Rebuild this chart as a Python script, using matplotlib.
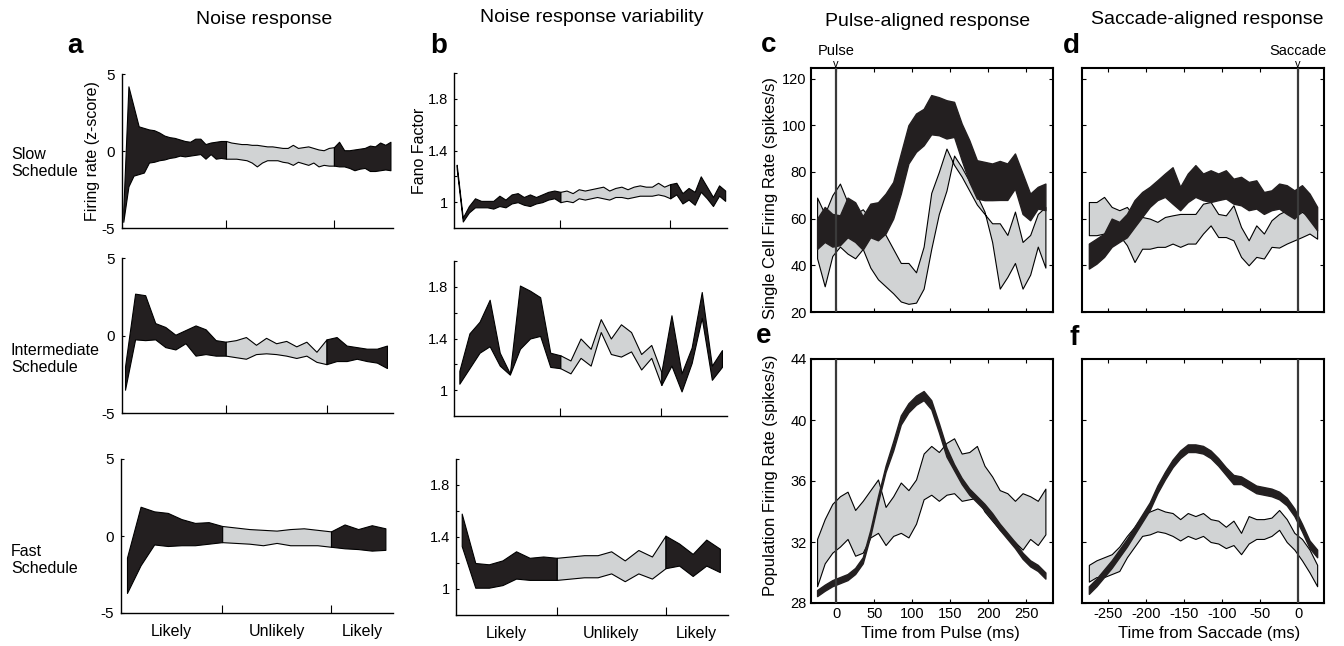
import numpy
import matplotlib
matplotlib.use('Agg')
import matplotlib.pyplot as pyplot
import matplotlib.transforms as mtransforms

pyplot.rcParams['font.family'] = ['Liberation Sans', 'DejaVu Sans']

W, H = 1344, 646
BLACK = '#231f20'
GREY = '#d1d3d4'

# ---- panel a : noise response (z-score), upper / lower edge of band ----
slow_hi = [-3.8, 4.2, 2.9, 1.6, 1.5, 1.4, 1.35, 1.2, 1.0, 0.9, 0.85, 0.75, 0.65, 0.6, 0.8, 0.8, 0.45, 0.55, 0.6, 0.65, 0.65,
           0.55, 0.5, 0.45, 0.45, 0.4, 0.4, 0.35, 0.3, 0.3, 0.25, 0.2, 0.2, 0.4, 0.2, 0.25, 0.3, 0.2, 0.1, 0.05, 0.2, 0.25,
           0.6, 0.05, 0.05, 0.1, 0.15, 0.2, 0.35, 0.3, 0.55, 0.4, 0.6]
slow_lo = [-4.6, -2.3, -1.6, -1.5, -1.4, -0.75, -0.7, -0.6, -0.55, -0.45, -0.4, -0.3, -0.35, -0.3, -0.25, -0.2, -0.5, -0.2, -0.5, -0.45, -0.5,
           -0.5, -0.5, -0.55, -0.6, -0.75, -1.0, -0.75, -0.6, -0.6, -0.6, -0.7, -0.75, -0.9, -0.7, -0.8, -0.9, -0.75, -1.0, -0.9, -0.95, -0.95,
           -1.0, -1.0, -1.1, -1.25, -1.15, -1.1, -1.3, -1.3, -1.25, -1.2, -1.25]
inter_hi = [-2.0, 2.7, 2.6, 0.8, 0.55, 0.05, 0.35, 0.65, 0.4, -0.3, -0.4, -0.3, -0.1, -0.6, -0.15, -0.5, -0.35, -0.7, -0.4, -1.05,
            -0.25, -0.1, -0.65, -0.75, -0.85, -0.85, -0.65]
inter_lo = [-3.5, -0.25, -0.3, -0.25, -0.75, -0.9, -0.5, -1.3, -1.2, -1.3, -1.3, -1.4, -1.5, -1.2, -1.15, -1.2, -1.3, -1.45, -1.3, -1.7,
            -1.85, -1.65, -1.65, -1.5, -1.65, -1.75, -2.1]
fast_hi = [-1.4, 1.9, 1.6, 1.5, 1.1, 0.85, 0.9, 0.65, 0.55, 0.45, 0.4, 0.35, 0.45, 0.5, 0.4, 0.3, 0.75, 0.45, 0.7, 0.5]
fast_lo = [-3.7, -1.9, -0.55, -0.65, -0.6, -0.6, -0.5, -0.4, -0.45, -0.5, -0.6, -0.45, -0.6, -0.6, -0.6, -0.7, -0.8, -0.85, -0.95, -0.9]

# ---- panel b : Fano factor ----
fano_slow_hi = [1.29, 0.88, 0.97, 1.03, 1.01, 1.01, 1.01, 1.05, 1.02, 1.06, 1.07, 1.04, 1.06, 1.04, 1.06, 1.08, 1.09, 1.08,
                1.09, 1.07, 1.10, 1.09, 1.10, 1.11, 1.12, 1.09, 1.11, 1.12, 1.10, 1.12, 1.13, 1.12, 1.12, 1.15, 1.12, 1.14,
                1.15, 1.07, 1.11, 1.08, 1.20, 1.12, 1.04, 1.13, 1.09]
fano_slow_lo = [1.26, 0.85, 0.92, 0.96, 0.96, 0.96, 0.95, 0.97, 0.96, 0.99, 1.0, 0.98, 0.97, 0.99, 1.0, 1.02, 1.03, 1.0,
                1.01, 1.0, 1.03, 1.02, 1.03, 1.04, 1.03, 1.02, 1.04, 1.04, 1.03, 1.04, 1.05, 1.05, 1.05, 1.06, 1.05, 1.03,
                1.06, 0.99, 1.02, 0.98, 1.08, 1.03, 0.97, 1.05, 1.01]
fano_inter_hi = [1.15, 1.44, 1.53, 1.70, 1.29, 1.13, 1.81, 1.77, 1.72, 1.29, 1.27,
                 1.23, 1.40, 1.32, 1.55, 1.40, 1.51, 1.45, 1.28, 1.35, 1.14,
                 1.58, 1.13, 1.33, 1.76, 1.19, 1.31]
fano_inter_lo = [1.05, 1.17, 1.29, 1.34, 1.19, 1.12, 1.32, 1.40, 1.42, 1.18, 1.17,
                 1.13, 1.25, 1.19, 1.45, 1.28, 1.26, 1.30, 1.16, 1.25, 1.04,
                 1.19, 0.99, 1.21, 1.56, 1.08, 1.18]
fano_fast_hi = [1.58, 1.20, 1.19, 1.22, 1.29, 1.24, 1.25, 1.24, 1.25, 1.26, 1.26, 1.29, 1.22, 1.30, 1.25, 1.41, 1.35, 1.27, 1.38, 1.31]
fano_fast_lo = [1.33, 1.01, 1.01, 1.03, 1.08, 1.07, 1.07, 1.07, 1.08, 1.09, 1.09, 1.12, 1.06, 1.12, 1.08, 1.16, 1.18, 1.10, 1.18, 1.13]

# Likely -> Unlikely -> Likely switch points (bin index) per schedule
cuts_slow = [20, 41]
cuts_inter = [10, 20]
cuts_fast = [7, 15]
cuts_slow_b = [17, 35]
seg_labels = ['Likely', 'Unlikely', 'Likely']

# ---- panels c-f : firing rates ----
t_pulse = numpy.arange(-25, 276, 10)
t_sacc = numpy.arange(-275, 26, 10)

c_blk_hi = [60, 65, 62, 61.4, 69, 67, 61, 66.4, 67, 70.7, 75.7, 87.9, 100, 105, 107, 112.9, 112, 110.7, 110, 100.7,
            93.6, 85, 84.3, 83.6, 84.7, 83.6, 87.9, 79.3, 70.7, 73.6, 75]
c_blk_lo = [47, 50, 48, 48.6, 52, 50, 46.7, 52, 50.7, 53.6, 60, 70.7, 83.6, 88.6, 91.4, 96.1, 95.7, 94.3, 95, 85,
            75.7, 68.6, 67.9, 67.9, 68, 68, 72.9, 62, 59.3, 64.3, 63.6]
c_gry_hi = [69, 62, 70, 75, 67, 62, 64, 60, 57, 53, 47, 41, 41, 37, 48, 71, 80, 90, 83, 78,
            72, 66, 62, 58, 58, 53, 63, 50, 53, 62, 65]
c_gry_lo = [43, 31, 44, 48, 45, 43, 47, 39, 34, 31, 28, 24.5, 23.5, 24, 30, 47, 62, 72, 87, 82,
            76, 70, 63, 50, 30, 35, 41, 30, 36, 48, 39]

d_blk_hi = [49.3, 51.4, 53.6, 60, 58.6, 62, 67.9, 71.4, 73.6, 76.4, 79.3, 82, 73.6, 79.3, 82.9, 79.3, 80.7, 79.3, 80.7, 77.1,
            77.9, 75.7, 76.4, 71.4, 72.1, 75, 74.3, 72.1, 74.3, 70.7, 65]
d_blk_lo = [38.6, 40.7, 43.6, 47.9, 50, 52, 56.4, 60.7, 65, 67.9, 69.3, 66.4, 63.6, 67.1, 69.3, 67.9, 67.1, 67.9, 68.6, 66.4,
            65.7, 63.6, 64.3, 62, 63.6, 64.3, 62, 60, 63.6, 59.3, 55]
d_gry_hi = [67.1, 67.1, 69.3, 65, 63.6, 65, 60.7, 60.7, 60, 58.6, 60.7, 61.4, 62, 62, 62, 66.4, 67.1, 62, 61.4, 65.7,
            56.4, 50.7, 57.1, 53.6, 59.3, 62, 63.6, 60.7, 62.9, 60.7, 55]
d_gry_lo = [52.9, 52.9, 53.6, 53.6, 52.9, 48.6, 41.4, 47.1, 47.1, 47.9, 47.9, 49.3, 47.9, 49.3, 49.3, 53.6, 57.1, 52.1, 52.1, 50.7,
            43.6, 40, 43.6, 42.9, 47.9, 47.6, 49.3, 50.7, 52.1, 53.6, 51.4]

e_blk_hi = [28.85, 29.2, 29.5, 29.7, 29.9, 30.3, 31.0, 32.8, 35.0, 37.0, 38.6, 40.3, 41.1, 41.6, 41.9, 41.3, 39.8, 38.2, 37.1, 36.2,
            35.5, 35.0, 34.5, 33.9, 33.2, 32.6, 32.0, 31.3, 30.8, 30.5, 30.0]
e_blk_lo = [28.45, 28.8, 29.1, 29.3, 29.5, 29.9, 30.6, 32.4, 34.6, 36.6, 38.0, 39.7, 40.5, 41.0, 41.3, 40.7, 39.2, 37.6, 36.7, 35.8,
            35.1, 34.6, 34.1, 33.5, 32.8, 32.2, 31.6, 30.9, 30.4, 30.1, 29.6]
e_gry_hi = [32.2, 33.5, 34.5, 35.0, 35.3, 34.1, 34.7, 35.4, 36.1, 34.3, 35.0, 35.9, 35.4, 36.1, 37.8, 38.3, 37.9, 38.5, 38.8, 37.8,
            37.9, 38.3, 37.0, 36.3, 35.4, 35.2, 34.7, 35.2, 35.0, 34.7, 35.5]
e_gry_lo = [29.1, 30.6, 31.3, 31.7, 32.2, 31.1, 31.3, 32.3, 32.6, 31.8, 32.4, 32.6, 32.3, 33.2, 34.8, 35.1, 34.7, 35.1, 35.2, 34.7,
            34.8, 34.9, 34.0, 33.4, 32.8, 32.4, 32.0, 31.5, 32.2, 31.8, 32.5]

f_blk_hi = [29.1, 29.6, 30.2, 30.8, 31.5, 32.2, 33.0, 33.8, 34.6, 35.7, 36.6, 37.4, 38.0, 38.4, 38.4, 38.3, 38.0, 37.5, 36.9, 36.4,
            36.3, 36.0, 35.7, 35.6, 35.5, 35.3, 34.9, 34.2, 33.2, 32.1, 31.5]
f_blk_lo = [28.6, 29.1, 29.7, 30.3, 31.0, 31.7, 32.5, 33.3, 34.1, 35.2, 36.1, 36.9, 37.5, 37.9, 37.9, 37.8, 37.5, 37.0, 36.4, 35.8,
            35.8, 35.5, 35.2, 35.1, 35.0, 34.8, 34.4, 33.7, 32.7, 31.6, 31.0]
f_gry_hi = [30.5, 30.8, 31.0, 31.2, 31.7, 32.4, 33.0, 33.7, 34.0, 34.2, 34.0, 33.9, 33.5, 33.9, 33.7, 33.9, 33.5, 33.4, 33.0, 33.4,
            32.6, 33.7, 33.5, 33.5, 33.6, 34.1, 33.5, 32.6, 32.2, 31.5, 30.5]
f_gry_lo = [29.4, 29.7, 29.7, 29.9, 30.1, 31.0, 31.7, 32.4, 32.5, 32.7, 32.6, 32.4, 32.1, 32.4, 32.2, 32.4, 32.0, 31.9, 31.6, 31.8,
            31.2, 31.9, 32.2, 32.2, 32.4, 32.8, 32.0, 31.5, 30.8, 30.0, 29.1]


def px_axes(fig, l, t, r, b):
    return fig.add_axes([l / W, 1 - b / H, (r - l) / W, (b - t) / H])


def schedule(ax, hi, lo, cuts, xlim, ylim, yticks, ylabels, bottom=False):
    x = numpy.arange(len(hi))
    hi = numpy.asarray(hi)
    lo = numpy.asarray(lo)
    edges = [0, cuts[0], cuts[1], len(hi) - 1]
    for k in range(3):
        s, e = edges[k], edges[k + 1] + 1
        col = GREY if k == 1 else BLACK
        ax.fill_between(x[s:e], lo[s:e], hi[s:e], facecolor=col, edgecolor='k', linewidth=0.8)
    ax.set_xlim(xlim)
    ax.set_ylim(ylim)
    for sp in ['top', 'right']:
        ax.spines[sp].set_visible(False)
    for sp in ['left', 'bottom']:
        ax.spines[sp].set_linewidth(1.0)
    ax.set_xticks(cuts)
    ax.set_xticklabels([])
    ax.set_yticks(yticks)
    ax.set_yticklabels(ylabels)
    ax.tick_params(axis='x', which='major', direction='in', length=6, width=0.8)
    ax.tick_params(axis='y', direction='in', length=2.5, width=0.8, labelsize=11, pad=5)
    if bottom:
        centers = [(xlim[0] + cuts[0]) / 2, (cuts[0] + cuts[1]) / 2, (cuts[1] + xlim[1]) / 2]
        ax.set_xticks(centers, minor=True)
        ax.set_xticklabels(seg_labels, minor=True)
        ax.tick_params(axis='x', which='minor', length=0, labelsize=11.5, pad=8)


def time_panel(ax, t, g_hi, g_lo, k_hi, k_lo, xlim, ylim, xticks, yticks, xlab, ylab):
    ax.fill_between(t, g_lo, g_hi, facecolor=GREY, edgecolor='k', linewidth=0.8)
    ax.fill_between(t, k_lo, k_hi, facecolor=BLACK, edgecolor=BLACK, linewidth=1.0)
    ax.axvline(0, color='#3a3a3a', linewidth=1.6, zorder=5)
    ax.set_xlim(xlim)
    ax.set_ylim(ylim)
    ax.set_xticks(xticks)
    ax.set_yticks(yticks)
    ax.set_xticklabels([str(v) for v in xticks] if xlab else [])
    ax.set_yticklabels([str(v) for v in yticks] if ylab else [])
    for sp in ax.spines.values():
        sp.set_linewidth(1.5)
    ax.tick_params(direction='in', top=True, right=True, length=3, width=0.8, labelsize=10.5, pad=3)


fig = pyplot.figure(figsize=(W / 100, H / 100), dpi=100)

za = ([-5, 0, 5], ['-5', '0', '5'])
zb = ([1.0, 1.2, 1.4, 1.6, 1.8, 2.0], ['1', '', '1.4', '', '1.8', ''])

a1 = px_axes(fig, 122, 74, 393, 228)
schedule(a1, slow_hi, slow_lo, cuts_slow, (-0.25, 52.5), (-5, 5), *za)
a1.set_ylabel('Firing rate (z-score)', fontsize=11.5)
a1.yaxis.set_label_coords(-0.081, 0.5)
a2 = px_axes(fig, 122, 258, 393, 413)
schedule(a2, inter_hi, inter_lo, cuts_inter, (-0.3, 26.6), (-5, 5), *za)
a3 = px_axes(fig, 121, 459, 393, 613)
schedule(a3, fast_hi, fast_lo, cuts_fast, (-0.44, 19.56), (-5, 5), *za, bottom=True)

b1 = px_axes(fig, 454, 73, 727, 228)
schedule(b1, fano_slow_hi, fano_slow_lo, cuts_slow_b, (-0.44, 44.3), (0.8, 2.0), *zb)
b1.set_ylabel('Fano Factor', fontsize=11.5)
b1.yaxis.set_label_coords(-0.1, 0.5)
b2 = px_axes(fig, 454, 261, 727, 416)
schedule(b2, fano_inter_hi, fano_inter_lo, cuts_inter, (-0.53, 26.5), (0.8, 2.0), *zb)
b3 = px_axes(fig, 456, 459, 728, 615)
schedule(b3, fano_fast_hi, fano_fast_lo, cuts_fast, (-0.42, 19.6), (0.8, 2.0), *zb, bottom=True)
for ax in [b1, b2, b3]:
    ax.tick_params(axis='y', labelsize=10.5, pad=4)

pulse_ticks = [0, 50, 100, 150, 200, 250]
sacc_ticks = [-250, -200, -150, -100, -50, 0]

axc = px_axes(fig, 811, 68, 1053, 312)
time_panel(axc, t_pulse, c_gry_hi, c_gry_lo, c_blk_hi, c_blk_lo, (-33, 285), (20, 124.5),
           pulse_ticks, [20, 40, 60, 80, 100, 120], False, True)
axc.set_ylabel('Single Cell Firing Rate (spikes/s)', fontsize=12)
axc.yaxis.set_label_coords(-0.136, 0.467)

axd = px_axes(fig, 1082, 68, 1324, 312)
time_panel(axd, t_sacc, d_gry_hi, d_gry_lo, d_blk_hi, d_blk_lo, (-284, 34), (20, 124.5),
           sacc_ticks, [20, 40, 60, 80, 100, 120], False, False)

axe = px_axes(fig, 811, 359, 1053, 603)
time_panel(axe, t_pulse, e_gry_hi, e_gry_lo, e_blk_hi, e_blk_lo, (-33, 285), (28, 44),
           pulse_ticks, [28, 32, 36, 40, 44], True, True)
axe.set_ylabel('Population Firing Rate (spikes/s)', fontsize=12)
axe.yaxis.set_label_coords(-0.136, 0.525)
axe.set_xlabel('Time from Pulse (ms)', fontsize=12)
axe.xaxis.set_label_coords(0.533, -0.094)

axf = px_axes(fig, 1082, 359, 1324, 603)
time_panel(axf, t_sacc, f_gry_hi, f_gry_lo, f_blk_hi, f_blk_lo, (-284, 34), (28, 44),
           sacc_ticks, [28, 32, 36, 40, 44], True, False)
axf.set_xlabel('Time from Saccade (ms)', fontsize=12)
axf.xaxis.set_label_coords(0.525, -0.094)

# event markers above c and d
for ax, name in [(axc, 'Pulse'), (axd, 'Saccade')]:
    tr = mtransforms.blended_transform_factory(ax.transData, ax.transAxes)
    ax.text(0, 0.995, 'v', transform=tr, ha='center', va='bottom', fontsize=8)
    ax.text(0, 1.052, name, transform=tr, ha='center', va='baseline', fontsize=10.5)

# column titles
fig.text(264 / W, 1 - 20 / H, 'Noise response', ha='center', va='center', fontsize=14)
fig.text(592 / W, 1 - 18 / H, 'Noise response variability', ha='center', va='center', fontsize=14)
fig.text(928 / W, 1 - 22 / H, 'Pulse-aligned response', ha='center', va='center', fontsize=14)
fig.text(1207 / W, 1 - 20 / H, 'Saccade-aligned response', ha='center', va='center', fontsize=14)

# row labels
fig.text(11 / W, 1 - 163 / H, 'Slow\nSchedule', ha='left', va='center', fontsize=11.5, linespacing=1.12)
fig.text(11 / W, 1 - 359 / H, 'Intermediate\nSchedule', ha='left', va='center', fontsize=11.5, linespacing=1.12)
fig.text(11 / W, 1 - 560 / H, 'Fast\nSchedule', ha='left', va='center', fontsize=11.5, linespacing=1.12)

# panel letters
for letter, x, y in [('a', 67, 53), ('b', 430, 53), ('c', 761, 52), ('d', 1063, 53), ('e', 756, 343), ('f', 1070, 345)]:
    fig.text(x / W, 1 - y / H, letter, ha='left', va='baseline', fontsize=20, fontweight='bold')

fig.savefig('out.png', dpi=100)
